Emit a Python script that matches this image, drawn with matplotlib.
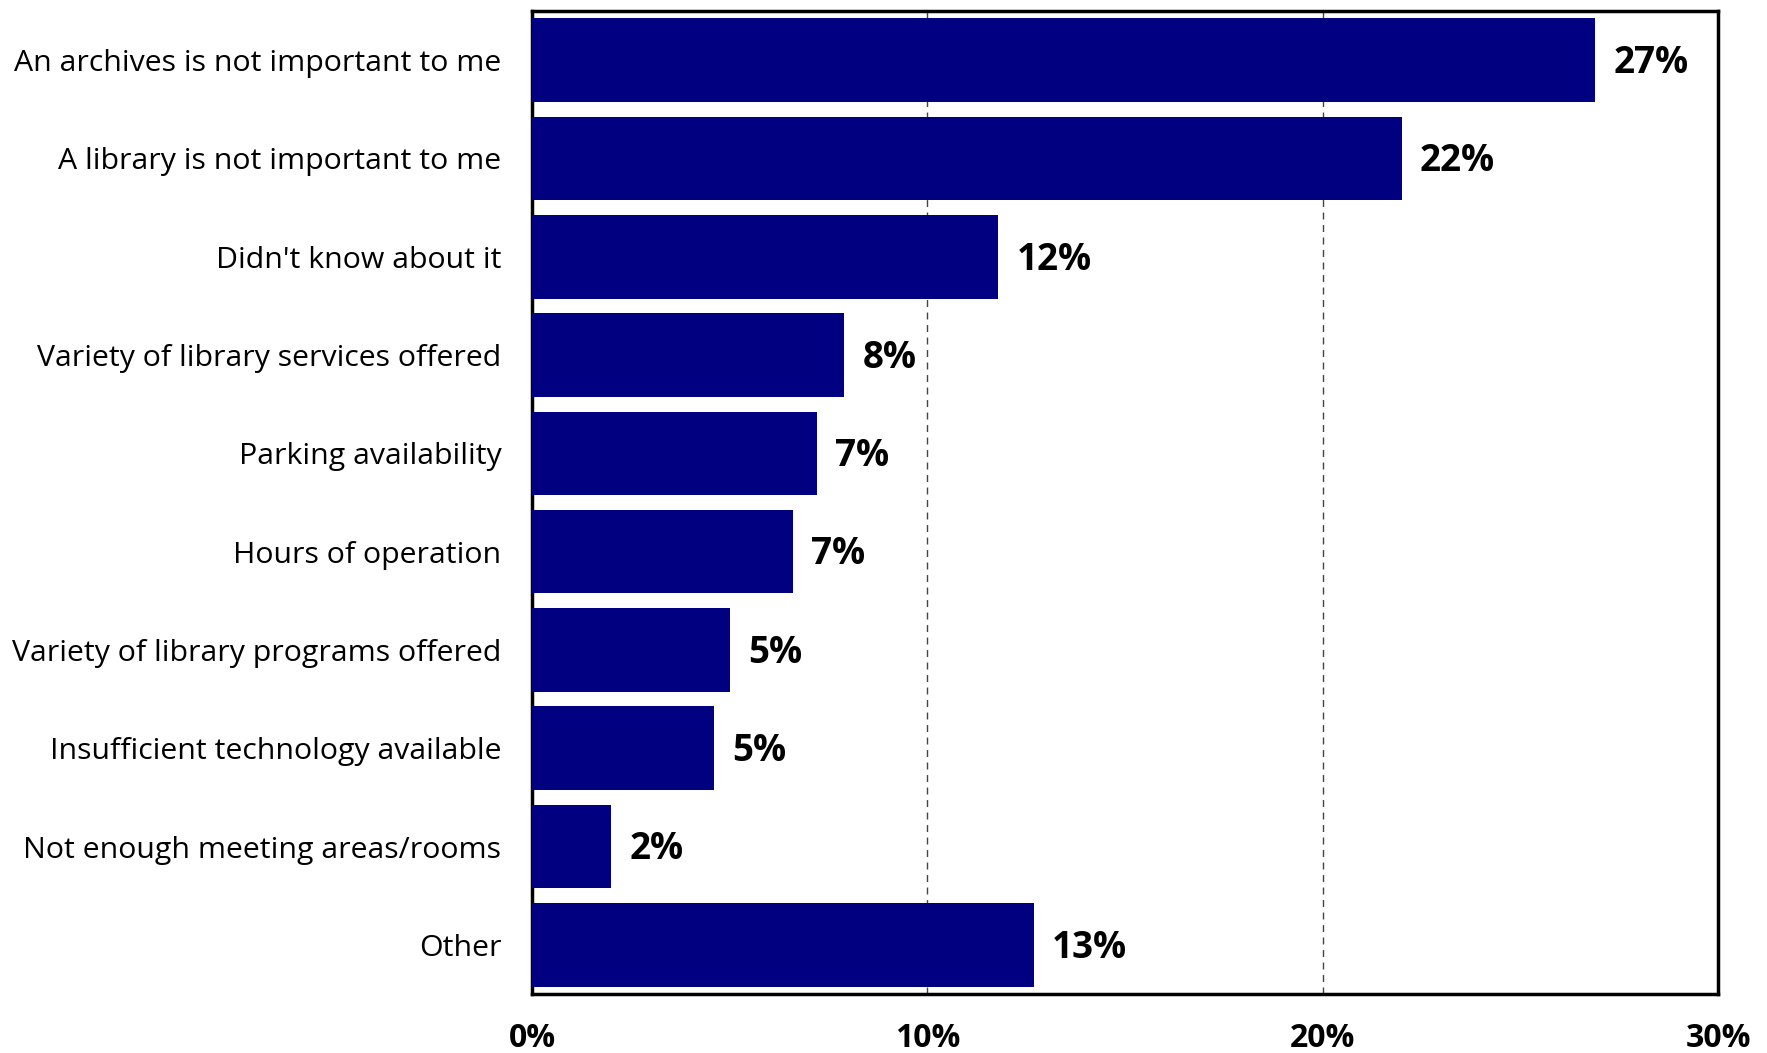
import matplotlib
matplotlib.use("Agg")
import matplotlib.pyplot as plt
from matplotlib.ticker import FuncFormatter

categories = [
    "An archives is not important to me",
    "A library is not important to me",
    "Didn't know about it",
    "Variety of library services offered",
    "Parking availability",
    "Hours of operation",
    "Variety of library programs offered",
    "Insufficient technology available",
    "Not enough meeting areas/rooms",
    "Other",
]
values = [26.9, 22.0, 11.8, 7.9, 7.2, 6.6, 5.0, 4.6, 2.0, 12.7]
value_labels = ["27%", "22%", "12%", "8%", "7%", "7%", "5%", "5%", "2%", "13%"]
xticks = [0, 10, 20, 30]

plt.rcParams['font.family'] = ['Open Sans', 'DejaVu Sans']

fig = plt.figure(figsize=(17.67, 10.53), dpi=100)
ax = fig.add_axes([532/1767, 1 - 994/1053, (1718-532)/1767, (994-11)/1053])

y = list(range(len(categories)))
ax.barh(y, values, height=0.85, color="#000080", zorder=3)
ax.set_ylim(len(categories) - 0.5, -0.5)
ax.set_xlim(0, 30)
ax.set_yticks(y)
ax.set_yticklabels(categories, fontsize=21.8)
ax.set_xticks(xticks)
ax.xaxis.set_major_formatter(FuncFormatter(lambda v, p: f"{int(v)}%"))
for lbl in ax.get_xticklabels():
    lbl.set_fontweight("bold")
    lbl.set_fontsize(23)
ax.tick_params(axis="y", length=0, pad=22)
ax.tick_params(axis="x", length=0, pad=20)

ax.grid(axis="x", linestyle=(0, (5, 4)), color="#444444", linewidth=1, zorder=0)
for s in ax.spines.values():
    s.set_linewidth(2.5)
    s.set_color("black")

for yi, v, t in zip(y, values, value_labels):
    ax.annotate(t, (v, yi), xytext=(13, -2), textcoords="offset points",
                va="center", ha="left", fontsize=26.5, fontweight="bold")

fig.savefig("out.png", dpi=100)
